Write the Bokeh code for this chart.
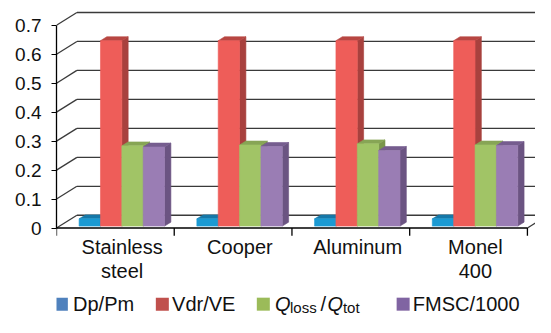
from bokeh.plotting import figure
from bokeh.models import FixedTicker, Range1d
from bokeh.core.properties import value
from bokeh.embed import file_html
from bokeh.resources import INLINE

# ---------------- data ----------------
categories = ["Stainless\nsteel", "Cooper", "Aluminum", "Monel\n400"]
series_names = ["Dp/Pm", "Vdr/VE", "Qloss/Qtot", "FMSC/1000"]
dp_pm = [0.025, 0.025, 0.025, 0.025]
vdr_ve = [0.64, 0.64, 0.64, 0.64]
q_loss_tot = [0.277, 0.280, 0.284, 0.280]
fmsc_1000 = [0.273, 0.275, 0.261, 0.278]
y_ticks = [0, 0.1, 0.2, 0.3, 0.4, 0.5, 0.6, 0.7]
y_tick_labels = ["0", "0.1", "0.2", "0.3", "0.4", "0.5", "0.6", "0.7"]

series_values = [dp_pm, vdr_ve, q_loss_tot, fmsc_1000]

# ---------------- styles ----------------
front_colors = ["#1B9AD3", "#EE5D59", "#A1C466", "#9A7DB4"]
top_colors = ["#1678A8", "#B84642", "#87A555", "#765D8F"]
side_colors = ["#14689A", "#A8413E", "#7A964B", "#6B5482"]
legend_colors = ["#4F81BD", "#C0504D", "#9BBB59", "#8064A2"]
FONT = "Liberation Sans"
TXT = "#111111"

# ---------------- geometry ----------------
W, H = 535, 317
SX, SY = W / 551.0, H / 333.0          # canvas / reference scale
REF_XS, REF_YS = 121.25, 304.3         # reference px per data unit
XS, YS = REF_XS * SX, REF_YS * SY
LEFT = int(round(58 * SX))
Y0_CANVAS = 239 * SY
Y_END = Y0_CANVAS / YS
Y_START = -(H - Y0_CANVAS) / YS
X_END = (W - LEFT) / XS

def px_x(px):
    return px / REF_XS

def px_y(px):
    return px / REF_YS

def ref_y(page_y):
    return (239 - page_y) / REF_YS

DX = px_x(21)      # wall depth offsets
DY = px_y(13.4)
F0, F1 = 0.15, 0.46  # bar depth (fraction of wall depth)
GAP = px_x(23.3) - F0 * DX
BW = px_x(22)

p = figure(width=W, height=H, output_backend="svg", toolbar_location=None,
           title=None, x_range=Range1d(0, X_END), y_range=Range1d(Y_START, Y_END),
           x_axis_location=None, y_axis_location="left",
           min_border_left=LEFT, min_border_right=0, min_border_top=0,
           min_border_bottom=0)
p.outline_line_color = None
p.grid.visible = False
p.background_fill_color = "white"
p.border_fill_color = "white"

ya = p.yaxis[0]
ya.ticker = FixedTicker(ticks=y_ticks)
ya.major_label_overrides = {t: l for t, l in zip(y_ticks, y_tick_labels)}
ya.bounds = (0, 0.7)
ya.major_label_text_font = FONT
ya.major_label_text_font_size = "19px"
ya.major_label_text_color = TXT
ya.major_tick_out = 5
ya.major_tick_in = 0
ya.minor_tick_out = 0
ya.minor_tick_in = 0
ya.major_label_standoff = 10
ya.axis_line_width = 1.3
ya.axis_line_color = "black"
ya.major_tick_line_color = "black"

# back wall gridlines and left-wall diagonals
grid_col = "#3a3a3a"
n_cat = len(categories)
p.segment(x0=[DX] * len(y_ticks), y0=[v + DY for v in y_ticks],
          x1=[n_cat + 1] * len(y_ticks), y1=[v + DY for v in y_ticks],
          line_color=grid_col, line_width=1.3)
p.segment(x0=[0] * len(y_ticks), y0=y_ticks,
          x1=[DX] * len(y_ticks), y1=[v + DY for v in y_ticks],
          line_color=grid_col, line_width=1.3)
# right floor edge
p.segment(x0=[n_cat], y0=[0], x1=[n_cat + DX], y1=[DY], line_color=grid_col, line_width=1.3)

# front floor edge (x axis) and category boundary ticks
p.segment(x0=[0], y0=[0], x1=[n_cat], y1=[0], line_color="black", line_width=1.3)
p.segment(x0=list(range(n_cat + 1)), y0=[0] * (n_cat + 1),
          x1=list(range(n_cat + 1)), y1=[-px_y(8)] * (n_cat + 1),
          line_color="black", line_width=1.3)

# pseudo-3D bars
xs, ys, fills = [], [], []
ddx = (F1 - F0) * DX
ddy = (F1 - F0) * DY
for c in range(n_cat):
    for s, vals in enumerate(series_values):
        v = vals[c]
        x0 = c + GAP + F0 * DX + s * BW
        x1 = x0 + BW
        b = F0 * DY
        t = b + v
        xs.append([x1, x1 + ddx, x1 + ddx, x1])        # side face
        ys.append([b, b + ddy, t + ddy, t])
        fills.append(side_colors[s])
        xs.append([x0, x1, x1 + ddx, x0 + ddx])        # top face
        ys.append([t, t, t + ddy, t + ddy])
        fills.append(top_colors[s])
        xs.append([x0, x1, x1, x0])                    # front face
        ys.append([b, b, t, t])
        fills.append(front_colors[s])
p.patches(xs=xs, ys=ys, fill_color=fills, line_color=fills, line_width=0.6)

# category labels (vertically centred on the cap height)
lab_x, lab_y, lab_t = [], [], []
for c, name in enumerate(categories):
    for k, line in enumerate(name.split("\n")):
        lab_x.append(c + 0.5 + px_x(7))
        lab_y.append(ref_y(258.5 + 26 * k))
        lab_t.append(line)
p.text(x=lab_x, y=lab_y, text=lab_t, text_align="center", text_baseline="middle",
       text_font=value(FONT), text_font_size="20px", text_color=TXT)

# legend (drawn manually for the Q_loss/Q_tot formatting)
LEG_MID = ref_y(319.0)
sq_px = [63, 167, 271, 415]
p.scatter(x=[px_x(v - 58) for v in sq_px], y=[LEG_MID] * 4,
          marker="square", size=13, fill_color=legend_colors, line_color=None)
plain_px = [75, 177, 425]
plain_txt = [series_names[0], series_names[1], series_names[3]]
p.text(x=[px_x(v - 58) for v in plain_px], y=[LEG_MID] * 3, text=plain_txt,
       text_align="left", text_baseline="middle",
       text_font=value(FONT), text_font_size="20px", text_color=TXT)
# Q_loss / Q_tot
p.text(x=[px_x(283 - 58), px_x(337 - 58)], y=[LEG_MID] * 2, text=["Q", "Q"],
       text_align="left", text_baseline="middle", text_font=value(FONT),
       text_font_style="italic", text_font_size="20px", text_color=TXT)
p.text(x=[px_x(330 - 58)], y=[LEG_MID], text=["/"],
       text_align="left", text_baseline="middle", text_font=value(FONT),
       text_font_size="20px", text_color=TXT)
p.text(x=[px_x(298.5 - 58), px_x(353 - 58)], y=[ref_y(322.5)] * 2,
       text=["loss", "tot"], text_align="left", text_baseline="middle",
       text_font=value(FONT), text_font_size="15px", text_color=TXT)

open("out.html", "w").write(file_html(p, INLINE))
